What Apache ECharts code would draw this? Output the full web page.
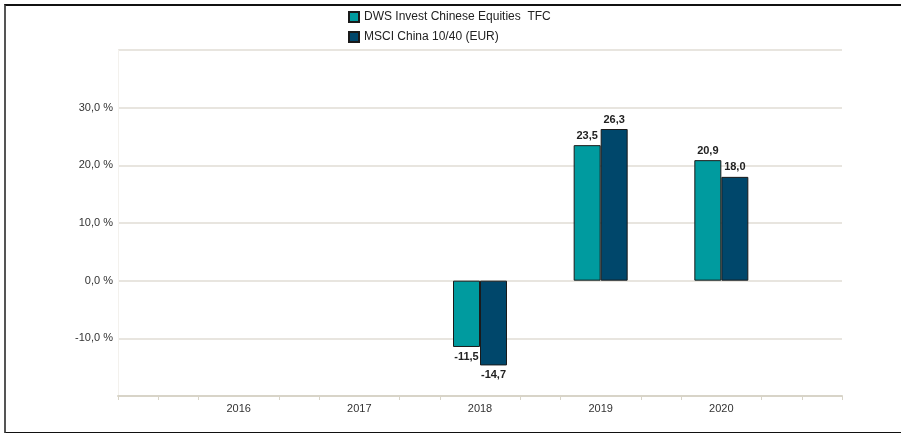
<!DOCTYPE html>
<html>
<head>
<meta charset="utf-8">
<script src="https://cdn.jsdelivr.net/npm/echarts@6/dist/echarts.min.js"></script>
<style>
    html, body { margin: 0; padding: 0; background: #fff; }
    #chart { width: 901px; height: 433px; }
    #frame {
        position: absolute; left: 4px; top: 4px; width: 897px; height: 426px;
        border-top: 2px solid #111; border-left: 2px solid #555; border-bottom: 2px solid #111;
        pointer-events: none;
    }
</style>
</head>
<body>
<div id="chart"></div>
<div id="frame"></div>
<script>
    var years = ['2016', '2017', '2018', '2019', '2020'];
    var fundName = 'DWS Invest Chinese Equities  TFC';
    var benchName = 'MSCI China 10/40 (EUR)';
    var fundValues = [null, null, -11.5, 23.5, 20.9];
    var benchValues = [null, null, -14.7, 26.3, 18.0];
    var yTicks = [-10, 0, 10, 20, 30];
    // small ticks on the x axis line (in thirds of a year slot), none under the labels
    var minorTicks = [0, 1, 2, 4, 5, 7, 8, 10, 11, 13, 14, 16, 17, 18];

    function fmt(v) { return v.toFixed(1).replace('.', ','); }

    // pad one empty slot either side so the years sit on slot borders
    var cats = [''].concat(years, ['']);
    function build(values) {
        var out = [null];
        values.forEach(function (v) {
            if (v === null) { out.push(null); return; }
            out.push({
                value: v,
                label: { position: v < 0 ? 'bottom' : 'top' }
            });
        });
        out.push(null);
        return out;
    }

    var chart = echarts.init(document.getElementById('chart'));
    var textFont = 'Liberation Sans, Arial, sans-serif';
    var barLabel = {
        show: true, distance: 4, color: '#222', fontSize: 11, fontWeight: 'bold',
        fontFamily: textFont,
        formatter: function (p) { return fmt(p.value); }
    };

    chart.setOption({
        animation: false,
        textStyle: { fontFamily: textFont },
        legend: {
            orient: 'vertical', left: 343, top: 6, itemWidth: 10, itemHeight: 10, itemGap: 8,
            icon: 'rect',
            textStyle: { fontSize: 12, color: '#222', fontFamily: textFont },
            data: [fundName, benchName]
        },
        grid: { left: 118, right: 59, top: 50, bottom: 37 },
        xAxis: [{
            type: 'category', data: cats, boundaryGap: false,
            axisLine: { show: false }, axisTick: { show: false },
            axisLabel: { interval: 0, color: '#333', fontSize: 11, margin: 7 }
        }, {
            type: 'value', min: 0, max: 18, position: 'bottom',
            axisLine: { show: true, lineStyle: { color: '#d8d4c8', width: 2 } },
            axisTick: { show: true, customValues: minorTicks, length: 4, lineStyle: { color: '#d8d4c8', width: 1 } },
            axisLabel: { show: false }, splitLine: { show: false }
        }],
        yAxis: {
            type: 'value', min: -20, max: 40, interval: 10,
            axisLine: { show: true, lineStyle: { color: '#f3f1ed' } },
            axisTick: { show: false },
            splitLine: { lineStyle: { color: '#e0ddd4', width: 1.5 } },
            axisLabel: {
                color: '#333', fontSize: 11, margin: 5,
                formatter: function (v) { return yTicks.indexOf(v) >= 0 ? fmt(v) + ' %' : ''; }
            }
        },
        series: [{
            name: fundName, type: 'bar', barWidth: 27, barGap: '0%',
            itemStyle: { color: '#009b9f', borderColor: '#1a1a1a', borderWidth: 1 },
            label: barLabel, data: build(fundValues)
        }, {
            name: benchName, type: 'bar', barWidth: 27, barGap: '0%',
            itemStyle: { color: '#00476b', borderColor: '#1a1a1a', borderWidth: 1 },
            label: barLabel, data: build(benchValues)
        }]
    });
</script>
</body>
</html>
